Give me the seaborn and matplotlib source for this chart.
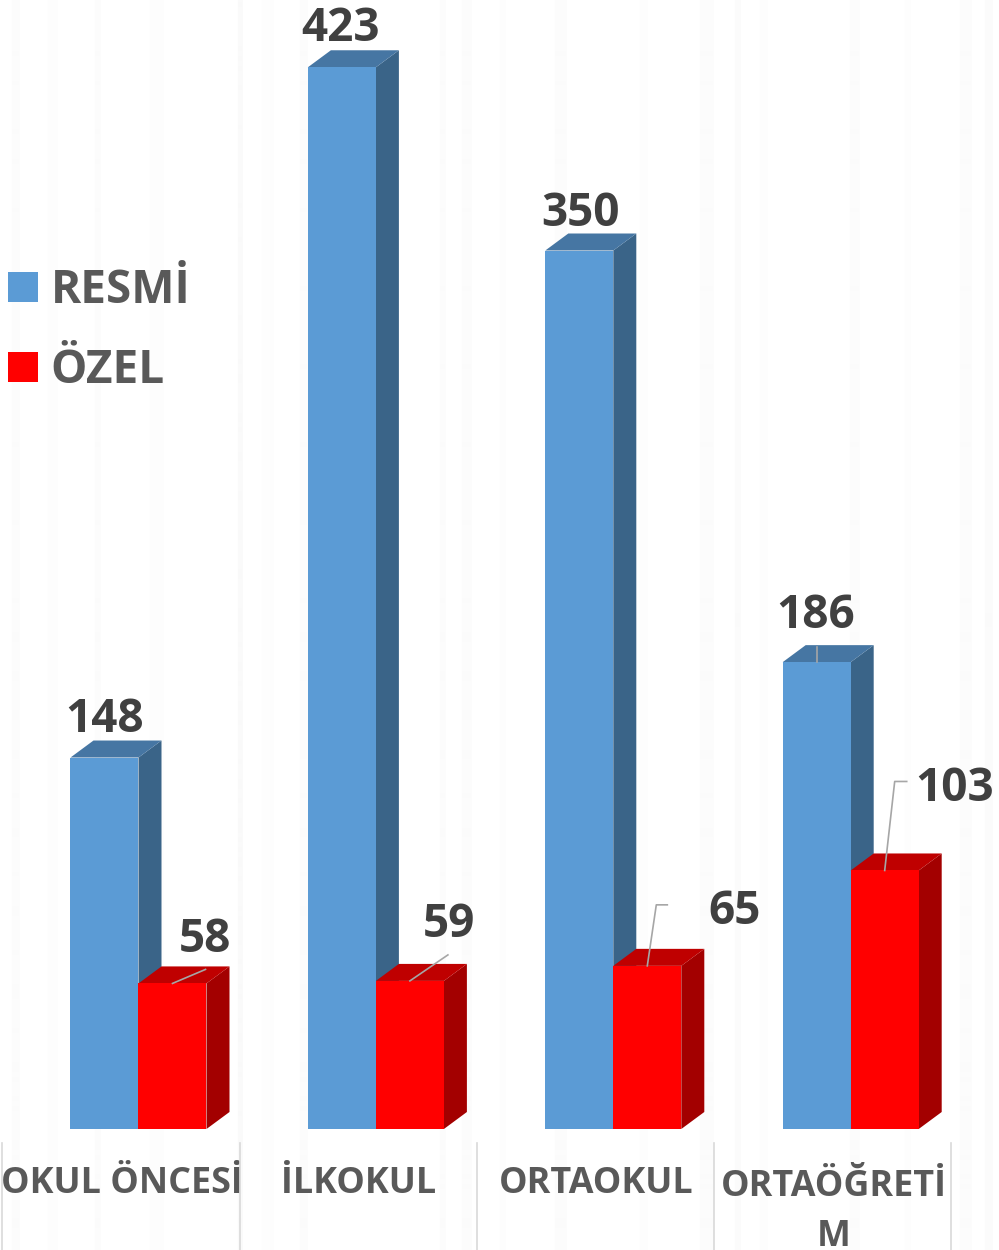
import matplotlib
matplotlib.use("Agg")
import matplotlib.pyplot as plt
from matplotlib.patches import Polygon
from matplotlib.lines import Line2D
from matplotlib import transforms
import numpy as np
import pandas as pd
import seaborn as sns

# ---- data ----
categories = ["OKUL ÖNCESİ", "İLKOKUL", "ORTAOKUL", "ORTAÖĞRETİ\nM"]
resmi_values = [148, 423, 350, 186]
ozel_values = [58, 59, 65, 103]
series_names = ["RESMİ", "ÖZEL"]

# ---- styles ----
front_colors = ["#5B9BD5", "#FF0000"]
top_colors = ["#4676A3", "#BF0000"]
side_colors = ["#3A6488", "#A30000"]
label_color = "#404040"
text_color = "#595959"
leader_color = "#A6A6A6"
divider_color = "#D9D9D9"
font_name = "Open Sans"

# background stripes: x in px, width in px, lightness
stripe_x = [12, 48, 95, 150, 238, 262, 300, 440, 462, 500, 555, 640, 700, 735, 760, 850, 905, 960, 985]
stripe_w = [8, 10, 6, 14, 5, 12, 8, 6, 10, 6, 12, 8, 14, 6, 8, 10, 6, 12, 8]
stripe_g = [0.985, 0.99, 0.987, 0.99, 0.98, 0.99, 0.987, 0.985, 0.987, 0.99, 0.985, 0.99, 0.987, 0.982, 0.99, 0.987, 0.99, 0.987, 0.984]

W, H = 999, 1250
DEPTH_X, DEPTH_Y = 23, 17
BASE_PX = 1129
PX_PER_UNIT = 2.51
PX_PER_CAT = 237.4
FIRST_CENTER = 138.5

fig = plt.figure(figsize=(W / 100, H / 100), dpi=100, facecolor="white")

# background
bg = fig.add_axes([0, 0, 1, 1], zorder=0)
row = np.ones(W)
for x, w, g in zip(stripe_x, stripe_w, stripe_g):
    row[x:x + w] = g
bg.imshow(row[np.newaxis, :], cmap="gray", vmin=0, vmax=1, aspect="auto", extent=(0, W, H, 0), interpolation="bilinear")
bg.axis("off")

# main axes: spans the figure width, from the baseline to the top
ax = fig.add_axes([0, (H - BASE_PX) / H, 1, BASE_PX / H], zorder=1)
ax.patch.set_alpha(0)

df = pd.DataFrame({
    "category": categories * 2,
    "series": [series_names[0]] * 4 + [series_names[1]] * 4,
    "value": resmi_values + ozel_values,
})
sns.barplot(data=df, x="category", y="value", hue="series", order=categories, hue_order=series_names,
            palette=front_colors, width=136 / PX_PER_CAT, gap=0, dodge=True, saturation=1, ax=ax, linewidth=0)

ax.set_xlim(-FIRST_CENTER / PX_PER_CAT, (W - FIRST_CENTER) / PX_PER_CAT)
ax.set_ylim(0, BASE_PX / PX_PER_UNIT)
for s in ax.spines.values():
    s.set_visible(False)
ax.set_xlabel("")
ax.set_ylabel("")
ax.yaxis.set_visible(False)

# 3D faces derived from the bars
dx = DEPTH_X / PX_PER_CAT
dy = DEPTH_Y / PX_PER_UNIT
for idx, container in enumerate(ax.containers):
    for bar in container:
        x0, w, h = bar.get_x(), bar.get_width(), bar.get_height()
        x1 = x0 + w
        ax.add_patch(Polygon([(x1, 0), (x1 + dx, dy), (x1 + dx, h + dy), (x1, h)], closed=True,
                             facecolor=side_colors[idx], edgecolor="none", zorder=1.5 + idx))
        ax.add_patch(Polygon([(x0, h), (x0 + dx, h + dy), (x1 + dx, h + dy), (x1, h)], closed=True,
                             facecolor=top_colors[idx], edgecolor="none", zorder=1.5 + idx))
        bar.set_zorder(2 + idx)

# category labels and dividers
shift = -17 / PX_PER_CAT
ax.set_xticks([i + shift for i in range(len(categories))])
ax.set_xticklabels(categories, fontsize=25.8, fontweight="bold", color=text_color, family=font_name,
                   linespacing=1.53, va="baseline")
ax.tick_params(axis="x", length=0, pad=46)
# a wrapped label is anchored on its last line: move that line down one row
wrapped = ax.get_xticklabels()[-1]
wrapped.set_transform(wrapped.get_transform() + transforms.Affine2D().translate(0, -53))
div_x = [(p - FIRST_CENTER) / PX_PER_CAT for p in (2, 240, 477, 714, 951)]
fig_tr = transforms.blended_transform_factory(ax.transData, fig.transFigure)
for x in div_x:
    fig.add_artist(Line2D([x, x], [0, (H - 1143) / H], transform=fig_tr, color=divider_color, lw=1.2))

# data labels with leader lines; offsets from the centre of a bar's top edge, px (right, up)
offsets = [
    [(0, 26), (33, 31)],
    [(-1, 26), (39, 44)],
    [(1, 25), (87, 42)],
    [(-1, 34), (70, 69)],
]
leaders = [
    [None, [(0, 0), (33, 14)]],
    [None, [(0, 0), (38, 26)]],
    [None, [(0, 0), (9, 61), (20, 61)]],
    [[(0, 0), (0, 15)], [(0, 0), (10, 89), (22, 89)]],
]
for s_i, container in enumerate(ax.containers):
    for c_i, bar in enumerate(container):
        cx = bar.get_x() + bar.get_width() / 2
        top = bar.get_height()
        off = offsets[c_i][s_i]
        ax.annotate(f"{int(top)}", xy=(cx, top), xytext=off, textcoords="offset pixels",
                    ha="center", va="baseline", fontsize=33, fontweight="bold",
                    color=label_color, family=font_name, zorder=6)
        lead = leaders[c_i][s_i]
        if lead:
            base = ax.transData.transform((cx, top))
            pts = [ax.transData.inverted().transform((base[0] + a, base[1] + b)) for a, b in lead]
            ax.plot([p[0] for p in pts], [p[1] for p in pts], color=leader_color, lw=1.2, zorder=5, clip_on=False)

# legend
handles, labels = ax.get_legend_handles_labels()
leg = ax.legend(handles, labels, loc="upper left", bbox_to_anchor=(8 / W, 1 - (267 / BASE_PX)),
                frameon=False, borderpad=0, borderaxespad=0,
                prop={"family": font_name, "weight": "bold", "size": 33},
                labelcolor=text_color, handlelength=0.655, handleheight=0.655,
                handletextpad=0.28, labelspacing=0.72)

fig.savefig("out.png", dpi=100)
